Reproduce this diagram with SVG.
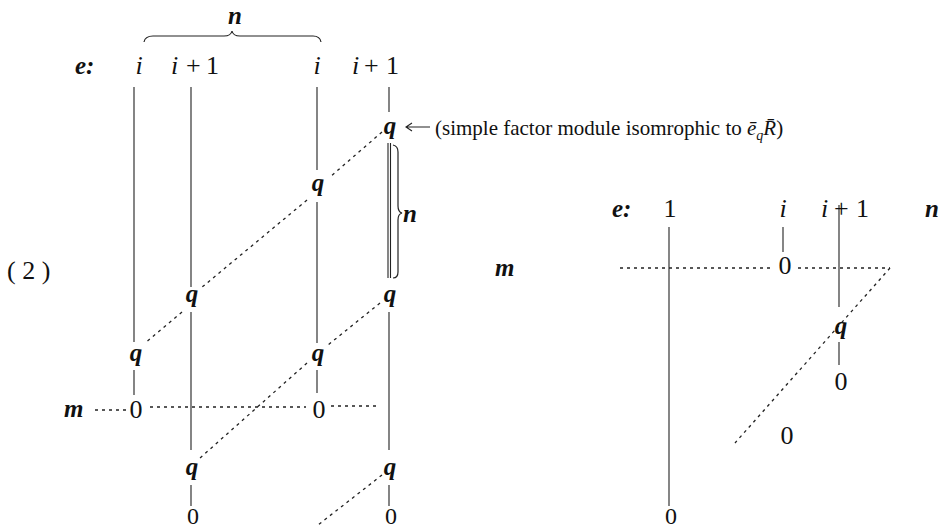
<svg xmlns="http://www.w3.org/2000/svg" width="943" height="531" viewBox="0 0 943 531">
<style>
  text { font-family: "Liberation Serif", "DejaVu Serif", serif; fill: #111; }
  .it { font-style: italic; font-size: 26px; }
  .bi { font-style: italic; font-weight: bold; font-size: 25px; }
  .rm { font-size: 26px; }
  .rb { font-size: 24px; }
  .lbl { font-size: 21px; }
  .mid { text-anchor: middle; }
  .ln { stroke: #222; stroke-width: 1.1; fill: none; }
  .ds { stroke: #222; stroke-width: 1.3; fill: none; stroke-dasharray: 3 4; }
  .br { stroke: #222; stroke-width: 1.2; fill: none; }
</style>
<rect width="943" height="531" fill="#fff"/>

<g id="connectors">
  <!-- left diagram vertical lines -->
  <path class="ln" d="M134,87 V342 M134,370 V395"/>
  <path class="ln" d="M191,87 V287 M191,312 V450 M191,485 V506"/>
  <path class="ln" d="M317,87 V170 M317,202 V343 M317,370 V393"/>
  <path class="ln" d="M389,87 V112 M388,143 V278 M390.5,143 V278 M389,312 V450 M389,485 V506"/>
  <!-- left horizontal dashed m row -->
  <path class="ds" d="M95,410 H127 M150,407 H306 M331,406 H380"/>
  <!-- left diagonals -->
  <path class="ds" d="M382,132 L330,177"/>
  <path class="ds" d="M307,200 L201,288"/>
  <path class="ds" d="M182,312 L145,343"/>
  <path class="ds" d="M380,303 L328,345"/>
  <path class="ds" d="M307,363 L200,458"/>
  <path class="ds" d="M382,475 L318,525"/>
  <!-- annotation arrow -->
  <path class="ln" d="M430,127 H406 M412,123 L406,127 L412,131"/>
  <!-- right diagram -->
  <path class="ln" d="M669,227 V506"/>
  <path class="ln" d="M783,227 V252"/>
  <path class="ln" d="M839,205 V307 M839,342 V365"/>
  <path class="ds" d="M620,268 H770 M798,268 H890"/>
  <path class="ds" d="M890,268 L735,443"/>
</g>

<g id="braces">
  <path class="br" d="M144,42 Q145,36 153,36 L224,36 Q231,36 232,31 Q233,36 240,36 L313,36 Q320,36 321,42"/>
  <path class="br" d="M393,145 Q398,146 398,152 L398,206 Q398,212 402,213 Q398,214 398,220 L398,272 Q398,278 393,278"/>
  <text class="bi" x="235" y="24" text-anchor="middle">n</text>
  <text class="bi" x="403" y="222">n</text>
</g>

<g id="header-left">
  <text class="bi" x="75" y="74">e:</text>
  <text class="it mid" x="139" y="74">i</text>
  <text class="it" x="171 186 206" y="74"><tspan>i</tspan><tspan font-style="normal">+1</tspan></text>
  <text class="it mid" x="317" y="74">i</text>
  <text class="it" x="352 364 386" y="74"><tspan>i</tspan><tspan font-style="normal">+1</tspan></text>
</g>

<g id="label-2"><text class="rm" x="7" y="279" xml:space="preserve">( 2 )</text></g>

<g id="annotation">
  <text class="lbl" x="435" y="135">(simple factor module isomrophic to <tspan font-style="italic">ē</tspan><tspan font-style="italic" font-size="14" dy="5">q</tspan><tspan font-style="italic" dy="-5">R̄</tspan>)</text>
</g>

<g id="left-nodes">
  <g id="q-c4-top"><text class="bi mid" x="390" y="134">q</text></g>
  <g id="q-c3-top"><text class="bi mid" x="318" y="191">q</text></g>
  <g id="q-c2-mid"><text class="bi mid" x="192" y="302">q</text></g>
  <g id="q-c4-mid"><text class="bi mid" x="390" y="302">q</text></g>
  <g id="q-c1"><text class="bi mid" x="136" y="361">q</text></g>
  <g id="q-c3-low"><text class="bi mid" x="318" y="361">q</text></g>
  <g id="m-left"><text class="bi" x="64" y="417">m</text></g>
  <g id="zero-c1"><text class="rm mid" x="136" y="418">0</text></g>
  <g id="zero-c3"><text class="rm mid" x="319" y="418">0</text></g>
  <g id="q-c2-low"><text class="bi mid" x="192" y="475">q</text></g>
  <g id="q-c4-low"><text class="bi mid" x="390" y="475">q</text></g>
  <g id="zero-c2"><text class="rb mid" x="193" y="524">0</text></g>
  <g id="zero-c4"><text class="rb mid" x="391" y="524">0</text></g>
</g>

<g id="right-nodes">
  <text class="bi" x="612" y="217">e:</text>
  <text class="rm mid" x="670" y="217">1</text>
  <text class="it mid" x="783" y="217">i</text>
  <text class="it" x="821 834 856" y="217"><tspan>i</tspan><tspan font-style="normal">+1</tspan></text>
  <text class="bi" x="925" y="217">n</text>
  <g id="m-right"><text class="bi" x="495" y="276">m</text></g>
  <g id="zero-ri"><text class="rm mid" x="785" y="274">0</text></g>
  <g id="q-right"><text class="bi mid" x="841" y="334">q</text></g>
  <g id="zero-rq"><text class="rm mid" x="841" y="390">0</text></g>
  <g id="zero-rd"><text class="rm mid" x="787" y="444">0</text></g>
  <g id="zero-r1"><text class="rb mid" x="671" y="524">0</text></g>
</g>
</svg>
